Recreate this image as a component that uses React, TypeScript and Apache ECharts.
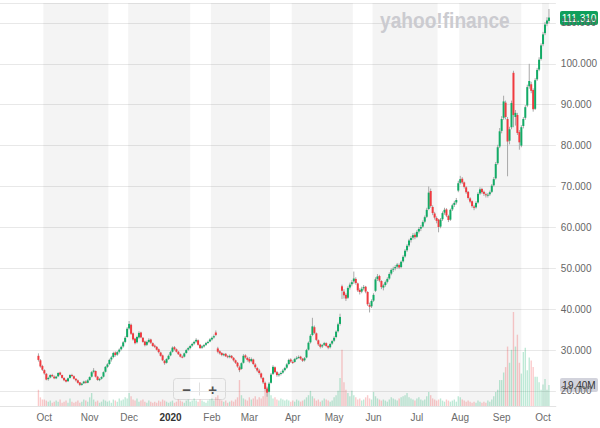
import React, { useEffect, useRef } from "react";
import * as echarts from "echarts";

// ---- Data (OHLC as [open, close, low, high]) ----
const sep2019 = [[28.6,27.6,27.2,29.2],[27.5,26.0,25.7,27.8],[26.1,25.2,24.9,26.4]];
const oct2019 = [[25.1,24.3,24.0,25.3],[24.2,22.8,22.6,24.4],[22.9,23.2,22.5,23.5],[23.3,23.9,23.1,24.1],[23.9,23.6,23.4,24.2],[23.5,23.1,22.9,23.8],[23.1,23.5,22.9,23.7],[23.6,24.4,23.4,24.6],[24.5,24.0,23.8,24.7],[23.9,23.2,23.0,24.0],[23.2,22.6,22.4,23.4],[22.7,22.3,22.1,22.9],[22.4,23.1,22.2,23.3],[23.2,23.9,23.0,24.1],[23.9,23.7,23.4,24.2],[23.6,23.0,22.8,23.8],[23.0,22.6,22.3,23.1],[22.6,22.0,21.8,22.8],[22.1,21.5,21.2,22.2],[21.5,21.8,21.3,22.0],[21.9,22.3,21.7,22.5],[22.3,22.0,21.8,22.6],[22.0,22.6,21.9,22.9]];
const nov2019 = [[22.7,23.4,22.5,23.6],[23.5,24.6,23.3,24.9],[24.7,25.0,24.3,25.6],[24.9,23.5,23.3,25.0],[23.5,22.7,22.5,23.7],[22.7,22.9,22.4,23.2],[23.0,23.4,22.8,23.6],[23.5,24.6,23.3,24.8],[24.7,25.9,24.5,26.1],[25.9,26.5,25.6,26.8],[26.6,27.6,26.3,27.9],[27.7,28.2,27.2,28.6],[28.3,29.3,28.0,29.6],[29.4,28.8,28.4,29.7],[28.9,29.5,28.6,29.8],[29.6,30.1,29.2,30.4],[30.2,30.8,29.9,31.1],[30.9,31.9,30.6,32.2],[32.0,33.0,31.7,33.4],[33.2,35.2,33.0,35.6]];
const dec2019 = [[35.3,36.4,35.0,37.1],[36.2,34.0,33.7,36.5],[34.1,32.6,32.3,34.3],[32.8,31.7,31.4,33.0],[31.9,33.2,31.6,33.5],[33.1,34.2,32.8,34.6],[34.3,33.1,32.9,34.5],[33.0,32.0,31.8,33.2],[32.1,31.2,30.9,32.3],[31.3,32.0,31.0,32.3],[32.0,32.5,31.7,32.9],[32.6,31.8,31.5,32.8],[31.7,31.0,30.8,31.9],[31.1,30.8,30.5,31.4],[30.8,30.1,29.9,31.0],[30.2,29.5,29.2,30.4],[29.4,28.6,28.4,29.6],[28.7,27.5,27.3,28.9],[27.4,26.8,26.4,27.6],[26.9,27.8,26.7,28.0],[27.8,28.6,27.6,28.9]];
const jan2020 = [[28.7,29.5,28.5,29.8],[29.6,30.6,29.4,30.9],[30.7,30.2,29.9,31.0],[30.2,29.6,29.4,30.4],[29.6,29.0,28.8,29.8],[29.0,28.4,28.2,29.2],[28.4,28.3,28.0,28.7],[28.4,29.2,28.2,29.4],[29.3,30.0,29.1,30.3],[30.1,30.5,29.8,30.8],[30.5,31.0,30.2,31.3],[31.1,31.5,30.8,31.8],[31.6,32.0,31.3,32.3],[32.1,32.5,31.8,32.9],[32.4,31.3,31.1,32.6],[31.3,30.5,30.3,31.5],[30.6,30.9,30.3,31.2],[30.9,31.2,30.6,31.5],[31.3,31.7,31.0,32.0],[31.8,32.0,31.5,32.3],[32.1,32.6,31.9,32.9]];
const feb2020 = [[32.6,33.0,32.3,33.3],[33.1,33.4,32.8,33.8],[34.3,33.7,33.4,34.8],[30.4,29.6,29.2,30.8],[29.7,29.2,28.9,30.0],[29.3,28.8,28.5,29.5],[28.8,29.0,28.5,29.3],[29.1,28.5,28.3,29.3],[28.5,28.3,28.0,28.8],[28.3,28.6,28.0,28.9],[28.6,28.1,27.9,28.8],[28.1,27.5,27.2,28.3],[27.5,26.9,26.6,27.7],[26.9,26.0,25.7,27.1],[25.8,25.1,24.6,26.2],[25.4,26.8,25.2,27.0],[26.9,28.6,26.7,29.0],[28.7,28.2,27.9,29.0],[28.1,27.6,27.2,28.4]];
const mar2020 = [[27.8,27.2,26.8,28.3],[27.3,27.8,27.0,28.2],[27.7,26.6,26.3,27.9],[26.5,25.8,25.4,26.8],[25.6,25.0,24.6,25.9],[25.0,24.4,24.0,25.4],[24.3,23.3,22.9,24.5],[23.2,22.1,21.7,23.4],[22.0,20.5,20.1,22.3],[20.6,19.6,18.6,21.0],[19.8,21.8,19.5,22.2],[22.0,24.0,21.8,24.4],[24.2,25.9,23.9,26.3],[25.8,24.6,24.3,26.0],[24.6,23.9,23.5,24.9],[23.9,24.1,23.5,24.5],[24.2,24.4,23.8,24.8],[24.5,25.0,24.2,25.4],[25.1,25.6,24.8,25.9],[25.7,26.5,25.4,26.8],[26.6,27.6,26.3,27.9],[27.7,27.2,26.9,28.0]];
const apr2020 = [[27.1,27.0,26.6,27.5],[27.1,27.8,26.9,28.1],[27.9,28.1,27.6,28.5],[28.2,28.3,27.9,28.7],[28.4,27.9,27.6,28.6],[27.9,27.4,27.1,28.1],[27.5,28.0,27.2,28.3],[28.2,30.0,28.0,30.3],[30.1,31.8,29.9,32.1],[31.9,33.5,31.6,33.9],[33.7,35.8,33.4,37.9],[35.6,34.2,33.9,36.0],[34.1,32.5,32.2,34.3],[32.4,31.4,31.0,32.6],[31.4,30.8,30.4,31.6],[30.9,31.2,30.5,31.5],[31.3,31.7,31.0,32.0],[31.7,31.0,30.7,31.9],[31.0,30.6,30.2,31.2],[30.7,31.5,30.4,31.8],[31.6,32.2,31.3,32.5]];
const may2020 = [[32.3,33.0,32.0,33.4],[33.2,34.5,32.9,34.8],[34.6,36.3,34.3,36.7],[36.4,38.1,36.0,38.9],[45.6,44.5,42.5,46.0],[44.3,43.4,42.6,44.9],[43.5,42.6,42.0,43.9],[42.8,45.2,42.5,45.6],[45.3,46.0,44.8,46.5],[46.1,46.6,45.6,47.1],[46.8,47.5,46.2,49.2],[47.4,46.4,46.0,47.8],[46.3,44.6,44.2,46.5],[44.7,44.2,43.6,45.1],[44.3,45.0,43.9,45.5],[45.1,45.4,44.6,45.9],[45.5,44.3,43.9,45.7],[44.2,41.2,40.8,44.4],[41.0,40.6,39.2,41.6],[40.7,42.0,40.3,42.4]];
const jun2020 = [[42.1,43.5,41.8,43.9],[44.5,47.3,44.2,47.8],[47.4,48.0,46.9,48.6],[48.1,47.0,46.6,48.4],[46.9,45.4,44.9,47.1],[45.3,45.8,44.6,46.2],[45.9,46.6,45.5,47.0],[46.7,47.4,46.3,47.8],[47.5,48.6,47.2,49.0],[48.7,49.6,48.3,50.0],[49.7,49.9,49.1,50.4],[50.0,50.3,49.5,50.8],[50.4,50.9,49.9,51.3],[50.8,50.2,49.8,51.2],[50.3,51.6,50.0,51.9],[51.7,52.8,51.4,53.2],[52.9,54.3,52.6,54.7],[54.4,55.5,54.0,55.9],[55.6,56.8,55.2,57.2],[56.9,57.4,56.3,57.9],[57.5,58.1,57.0,58.6],[58.2,57.6,57.1,58.7]];
const jul2020 = [[57.7,58.9,57.4,59.3],[59.0,59.6,58.5,60.1],[59.7,60.1,59.1,60.6],[60.2,61.3,59.9,61.7],[61.4,62.5,61.0,62.9],[62.6,64.3,62.3,64.8],[64.5,68.5,64.2,70.0],[68.9,65.2,64.8,69.5],[65.0,63.5,63.0,65.4],[63.4,62.4,61.9,63.8],[62.3,61.6,61.0,62.7],[61.9,60.1,58.8,62.1],[60.2,61.9,59.8,62.3],[62.0,63.5,61.6,63.9],[63.6,64.3,63.1,64.8],[64.4,62.9,62.5,64.7],[62.8,61.8,61.3,63.1],[61.9,64.3,61.6,64.6],[64.4,65.4,64.0,65.8],[65.5,66.0,65.0,66.5],[66.1,66.7,65.6,67.2],[69.0,70.8,68.6,71.4]];
const aug2020 = [[70.9,71.8,70.5,72.6],[71.9,71.0,70.6,72.3],[71.0,69.9,69.5,71.2],[69.8,68.6,68.2,70.1],[68.7,67.2,66.8,68.9],[67.1,66.3,65.9,67.4],[66.4,65.2,64.8,66.6],[65.1,64.8,64.2,65.5],[64.9,66.0,64.6,66.4],[66.1,68.2,65.8,68.6],[68.3,69.3,67.9,69.8],[69.4,68.6,68.2,69.7],[68.7,68.2,67.7,69.0],[68.1,67.9,67.3,68.5],[67.8,68.0,67.3,68.4],[68.1,68.6,67.7,69.0],[68.7,70.2,68.4,70.6],[70.3,71.8,70.0,72.3],[72.0,75.5,71.7,76.0],[75.7,79.6,75.3,80.2],[79.8,83.5,79.4,84.3]];
const sep2020 = [[83.6,86.5,83.0,87.2],[86.8,90.8,86.3,92.2],[90.5,87.0,86.4,91.0],[86.5,81.0,72.5,87.0],[81.2,84.0,80.3,84.6],[84.5,90.4,84.0,91.0],[97.8,87.5,84.5,98.3],[87.0,88.0,84.9,88.7],[87.5,83.1,82.6,88.0],[83.3,80.8,79.0,83.8],[80.0,84.5,79.6,85.0],[84.8,86.5,84.2,87.0],[86.8,89.4,86.3,89.9],[89.8,94.3,89.4,94.9],[94.5,95.8,93.9,100.0],[95.0,93.4,92.8,95.6],[93.6,88.9,88.3,94.0],[89.0,96.0,88.7,96.5],[96.2,98.5,95.8,99.0],[98.6,101.0,98.2,101.6],[101.2,104.5,100.8,105.0]];
const oct2020 = [[104.8,107.2,104.3,107.8],[107.5,109.6,107.0,110.2],[109.8,110.6,109.2,111.4],[110.5,111.31,109.9,113.4]];

// Volume in millions
const volSep2019 = [15, 8, 6];
const volOct2019 = [6,5,4,5,3,4,5,4,6,3,4,5,3,7,4,3,4,5,3,4,6,5,4];
const volNov2019 = [8,12,6,4,5,3,4,6,5,4,5,3,6,5,4,7,5,6,8,7];
const volDec2019 = [12,9,6,5,7,4,5,6,4,3,5,4,3,4,3,5,4,6,5,4,3];
const volJan2020 = [4,5,3,4,6,5,4,3,5,6,4,5,7,5,4,6,5,4,3,5,6];
const volFeb2020 = [7,5,8,10,6,5,4,5,3,4,5,4,6,8,24,10,7,6,5];
const volMar2020 = [8,6,7,9,6,8,7,9,15,18,12,10,7,8,6,5,7,6,5,6,5,4];
const volApr2020 = [5,4,6,5,4,5,6,8,10,14,9,7,5,6,4,5,7,6,5,4,5];
const volMay2020 = [8,10,14,26,52,22,15,12,9,14,10,8,6,7,5,6,8,10,7,6];
const volJun2020 = [13,9,7,6,5,6,5,4,6,8,7,6,5,7,8,9,10,12,8,7,6,5];
const volJul2020 = [7,8,6,5,6,9,13,10,7,6,5,6,7,5,4,6,5,4,5,6,4,9];
const volAug2020 = [8,6,5,4,5,4,3,4,3,5,4,3,4,3,5,4,6,9,13,15,24];
const volSep2020 = [24,31,36,55,40,52,87,55,66,40,30,50,54,33,45,42,36,27,27,22,15];
const volOct2020 = [20,25,15,19.4];

const yTickLabels = [20, 30, 40, 50, 60, 70, 80, 90, 100, 110];
const monthNames = ["Jan","Feb","Mar","Apr","May","Jun","Jul","Aug","Sep","Oct","Nov","Dec"];
const holidays = ["2019-09-02","2019-11-28","2019-12-25","2020-01-01","2020-01-20","2020-02-17","2020-04-10","2020-05-25","2020-07-03","2020-09-07"];
const lastPrice = "111.310";
const lastVolume = "19.40M";

const UP = "#12ab66";
const DOWN = "#f03a3f";
const WICK = "#a8a8a8";
const FONT = "'Liberation Sans', Arial, sans-serif";

function buildDates(): string[] {
  const out: string[] = [];
  const d = new Date(Date.UTC(2019, 7, 29));
  const end = Date.UTC(2020, 9, 9);
  while (d.getTime() <= end) {
    const wd = d.getUTCDay();
    const s = d.toISOString().slice(0, 10);
    if (wd !== 0 && wd !== 6 && holidays.indexOf(s) < 0) out.push(s);
    d.setUTCDate(d.getUTCDate() + 1);
  }
  return out;
}

export default function App() {
  const ref = useRef<HTMLDivElement>(null);
  useEffect(() => {
    if (!ref.current) return;
    const chart = echarts.init(ref.current, undefined, { renderer: "svg" });
    const dates = buildDates();
    const ohlc = ([] as number[][]).concat(sep2019, oct2019, nov2019, dec2019, jan2020, feb2020, mar2020, apr2020, may2020, jun2020, jul2020, aug2020, sep2020, oct2020);
    const vols = ([] as number[]).concat(volSep2019, volOct2019, volNov2019, volDec2019, volJan2020, volFeb2020, volMar2020, volApr2020, volMay2020, volJun2020, volJul2020, volAug2020, volSep2020, volOct2020);
    const start = dates.indexOf("2019-09-26");
    const candle: any[] = [];
    const volume: any[] = dates.map(() => "-");
    ohlc.forEach((c, i) => {
      const idx = start + i;
      candle.push([idx, c[0], c[1], c[2], c[3]]);
      const up = c[1] >= c[0];
      volume[idx] = { value: vols[i], itemStyle: { color: up ? "rgba(0,170,95,0.26)" : "rgba(240,50,55,0.26)" } };
    });
    const firstShown = dates.indexOf("2019-10-01");
    const monthStart: number[] = [];
    for (let i = firstShown; i < dates.length; i++) {
      if (i === firstShown || dates[i].slice(0, 7) !== dates[i - 1].slice(0, 7)) monthStart.push(i);
    }
    const bands: any[] = [];
    monthStart.forEach((idx, k) => {
      const m = parseInt(dates[idx].slice(5, 7), 10);
      if (m % 2 === 0) {
        const endIdx = k + 1 < monthStart.length ? monthStart[k + 1] : dates.length - 1;
        bands.push([{ xAxis: dates[idx] }, { xAxis: dates[endIdx] }]);
      }
    });
    const labelSet = new Set(monthStart);

    chart.setOption({
      animation: false,
      backgroundColor: "#ffffff",
      grid: { left: 0, right: 42, top: 3, bottom: 22 },
      xAxis: {
        type: "category",
        data: dates,
        axisTick: { show: false },
        axisLine: { show: true, lineStyle: { color: "#e3e3e3" } },
        splitLine: { show: false },
        axisLabel: {
          interval: (i: number) => labelSet.has(i),
          color: "#6b6b6b",
          fontSize: 10,
          fontFamily: FONT,
          margin: 6,
          formatter: (v: string) => {
            const m = parseInt(v.slice(5, 7), 10);
            if (m === 1) return "{b|" + v.slice(0, 4) + "}";
            return monthNames[m - 1];
          },
          rich: { b: { fontWeight: "bold", color: "#333", fontSize: 10, fontFamily: FONT } },
        },
      },
      yAxis: [
        {
          type: "value",
          position: "right",
          min: 16.33,
          max: 114.87,
          splitNumber: 10,
          axisLine: { show: false },
          axisTick: { show: false },
          splitLine: { lineStyle: { color: "#e8e8e8", width: 1 } },
          axisLabel: {
            showMinLabel: false,
            showMaxLabel: false,
            color: "#666",
            fontSize: 10,
            margin: 5,
            fontFamily: FONT,
            formatter: (v: number) => (yTickLabels.indexOf(Math.round(v)) >= 0 && Math.abs(v - Math.round(v)) < 1e-6 ? v.toFixed(3) : ""),
          },
        },
        { type: "value", min: 0, max: 373, show: false, splitLine: { show: false } },
      ],
      series: [
        {
          type: "bar",
          xAxisIndex: 0,
          yAxisIndex: 1,
          data: volume,
          barWidth: "70%",
          z: 2,
          markArea: {
            silent: true,
            z: 1,
            itemStyle: { color: "rgba(0,0,0,0.045)" },
            data: bands,
          },
        },
        {
          type: "custom",
          xAxisIndex: 0,
          yAxisIndex: 0,
          data: candle,
          z: 3,
          encode: { x: 0, y: [1, 2, 3, 4] },
          renderItem: (params: any, api: any) => {
            const i = api.value(0);
            const o = api.value(1);
            const c = api.value(2);
            const lo = api.value(3);
            const hi = api.value(4);
            const pO = api.coord([i, o]);
            const pC = api.coord([i, c]);
            const pL = api.coord([i, lo]);
            const pH = api.coord([i, hi]);
            const x = pO[0];
            const up = c >= o;
            const top = Math.min(pO[1], pC[1]);
            const h = Math.max(1, Math.abs(pO[1] - pC[1]));
            return {
              type: "group",
              children: [
                { type: "line", shape: { x1: x, y1: pH[1], x2: x, y2: pL[1] }, style: { stroke: WICK, lineWidth: 1 } },
                { type: "rect", shape: { x: x - 1, y: top, width: 2, height: h }, style: { fill: up ? UP : DOWN } },
              ],
            };
          },
        },
      ],
      graphic: [
        {
          type: "text",
          left: 380,
          top: 9,
          z: 10,
          scaleX: 0.87,
          style: { text: "yahoo!finance", fill: "#cbcbd0", font: "bold 22px " + FONT },
        },
        {
          type: "group",
          left: 560,
          top: 11,
          z: 20,
          children: [
            { type: "rect", shape: { x: 0, y: 0, width: 38, height: 14, r: 2 }, style: { fill: "#0e9f5b" } },
            { type: "text", x: 19, y: 7, style: { text: lastPrice, fill: "#fff", font: "10px " + FONT, align: "center", verticalAlign: "middle" } },
          ],
        },
        {
          type: "group",
          left: 560,
          top: 378,
          z: 20,
          children: [
            { type: "rect", shape: { x: 0, y: 0, width: 38, height: 14, r: 2 }, style: { fill: "#d2d3dc" } },
            { type: "text", x: 19, y: 7, style: { text: lastVolume, fill: "#333", font: "10px " + FONT, align: "center", verticalAlign: "middle" } },
          ],
        },
        {
          type: "group",
          left: 173,
          top: 378,
          z: 20,
          children: [
            { type: "rect", shape: { x: 0, y: 0, width: 52, height: 21, r: 3 }, style: { fill: "#ffffff", stroke: "#e4e4e4", lineWidth: 1 } },
            { type: "line", shape: { x1: 26, y1: 4, x2: 26, y2: 17 }, style: { stroke: "#e0e0e0", lineWidth: 1 } },
            { type: "text", x: 13, y: 10.5, style: { text: "\u2212", fill: "#555", font: "bold 15px " + FONT, align: "center", verticalAlign: "middle" } },
            { type: "text", x: 39, y: 10.5, style: { text: "+", fill: "#555", font: "bold 15px " + FONT, align: "center", verticalAlign: "middle" } },
          ],
        },
      ],
    });
    return () => chart.dispose();
  }, []);
  return <div ref={ref} style={{ position: "fixed", left: 0, top: 0, width: 600, height: 428 }} />;
}
